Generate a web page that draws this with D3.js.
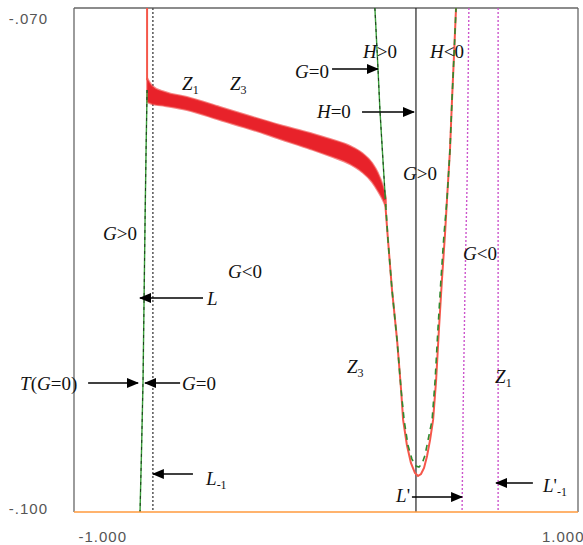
<!DOCTYPE html>
<html>
<head>
<meta charset="utf-8">
<script src="https://cdn.jsdelivr.net/npm/d3@7"></script>
<style>
  body { margin: 0; background: #fff; }
  .tick text { font-family: 'Liberation Sans', Arial, sans-serif; font-size: 15px; fill: #555; letter-spacing: 1px; }
  .note { font-family: 'Liberation Serif', 'Times New Roman', serif; font-size: 19px; fill: #111; }
</style>
</head>
<body>
<div id="chart"></div>
<script>
// axis ticks
const xTicks = [-1, 1];
const yTicks = [-0.1, -0.07];

// red scatter band (upper / lower edge)
const bandX   = [-0.710, -0.690, -0.639, -0.552, -0.421, -0.290, -0.183, -0.063, 0.016, 0.095, 0.143, 0.183, 0.206, 0.226, 0.238];
const bandTop = [-0.07417, -0.07464, -0.07500, -0.07530, -0.07589, -0.07649, -0.07696, -0.07744, -0.07780, -0.07821, -0.07863, -0.07923, -0.07982, -0.08060, -0.08131];
const bandBot = [-0.07560, -0.07571, -0.07583, -0.07607, -0.07667, -0.07726, -0.07780, -0.07839, -0.07881, -0.07929, -0.07976, -0.08036, -0.08089, -0.08143, -0.08185];

// red curve
const redLeft = [[-0.710, -0.0700], [-0.710, -0.0743]];
const redU = [[0.234, -0.08143], [0.246, -0.08381], [0.262, -0.08679], [0.282, -0.08976], [0.298, -0.09274],
  [0.306, -0.09452], [0.321, -0.09601], [0.337, -0.09708], [0.353, -0.09768], [0.365, -0.09786],
  [0.377, -0.09774], [0.389, -0.09738], [0.401, -0.09667], [0.413, -0.09571], [0.425, -0.09452],
  [0.437, -0.09214], [0.448, -0.08917], [0.460, -0.08619], [0.472, -0.08351], [0.480, -0.08143],
  [0.492, -0.07845], [0.500, -0.07548], [0.508, -0.07280], [0.516, -0.07000]];

// green curve G=0
const greenLeft = [[-0.710, -0.07488], [-0.714, -0.07845], [-0.718, -0.08262], [-0.722, -0.08738],
  [-0.726, -0.09214], [-0.732, -0.09631], [-0.738, -0.10000]];
const greenUpper = [[0.194, -0.07000], [0.206, -0.07351], [0.214, -0.07607], [0.226, -0.07905], [0.234, -0.08101]];
const greenU = [[0.234, -0.08101], [0.246, -0.08381], [0.262, -0.08679], [0.282, -0.08976], [0.298, -0.09274],
  [0.310, -0.09452], [0.325, -0.09601], [0.341, -0.09685], [0.357, -0.09726], [0.369, -0.09732],
  [0.381, -0.09714], [0.393, -0.09661], [0.405, -0.09571], [0.421, -0.09452], [0.433, -0.09214],
  [0.444, -0.08917], [0.456, -0.08619], [0.468, -0.08351], [0.480, -0.08143], [0.492, -0.07845],
  [0.500, -0.07548], [0.508, -0.07280], [0.516, -0.07000]];

// reference lines
const hZeroX = 0.357;
const lineL = -0.687;
const lineLp = [[0.567, -0.07], [0.560, -0.08024], [0.552, -0.08619], [0.544, -0.09411], [0.540, -0.1]];
const lineLp1 = 0.683;

// labels: [x, y, parts]  parts: [text, style] style i=italic, s=subscript
const notes = [
  [-0.571, -0.07488, [['Z', 'i'], ['1', 's']]],
  [-0.381, -0.07488, [['Z', 'i'], ['3', 's']]],
  [-0.123, -0.07417, [['G', 'i'], ['=0', '']]],
  [0.147, -0.07298, [['H', 'i'], ['>0', '']]],
  [0.413, -0.07298, [['H', 'i'], ['<0', '']]],
  [-0.036, -0.07655, [['H', 'i'], ['=0', '']]],
  [0.306, -0.08024, [['G', 'i'], ['>0', '']]],
  [-0.885, -0.08381, [['G', 'i'], ['>0', '']]],
  [-0.389, -0.08607, [['G', 'i'], ['<0', '']]],
  [-0.472, -0.08768, [['L', 'i']]],
  [-1.214, -0.09274, [['T', 'i'], ['(', ''], ['G', 'i'], ['=0)', '']]],
  [-0.571, -0.09274, [['G', 'i'], ['=0', '']]],
  [0.083, -0.09173, [['Z', 'i'], ['3', 's']]],
  [0.671, -0.09232, [['Z', 'i'], ['1', 's']]],
  [0.544, -0.08500, [['G', 'i'], ['<0', '']]],
  [-0.476, -0.09839, [['L', 'i'], ['-1', 's']]],
  [0.278, -0.09940, [['L', 'i'], ['\'', '']]],
  [0.861, -0.09881, [['L', 'i'], ['\'', ''], ['-1', 's']]]
];

// arrows: [x from, x to, y]
const arrows = [
  [0.024, 0.206, -0.07363],
  [0.143, 0.349, -0.07619],
  [-0.488, -0.738, -0.08726],
  [-0.944, -0.746, -0.09232],
  [-0.579, -0.718, -0.09232],
  [-0.528, -0.687, -0.09774],
  [0.341, 0.540, -0.09911],
  [0.821, 0.675, -0.09827]
];

const width = 583, height = 545;
const x = d3.scaleLinear().domain([-1, 1]).range([74, 578]);
const y = d3.scaleLinear().domain([-0.1, -0.07]).range([512, 8]);

const svg = d3.select('#chart').append('svg')
  .attr('width', width)
  .attr('height', height);

svg.append('defs').append('marker')
  .attr('id', 'head')
  .attr('markerUnits', 'userSpaceOnUse')
  .attr('markerWidth', 12).attr('markerHeight', 10)
  .attr('refX', 11).attr('refY', 5)
  .attr('orient', 'auto')
  .append('path')
  .attr('d', 'M0,0 L12,5 L0,10 Z')
  .attr('fill', '#000');

// frame
svg.append('line').attr('x1', x(-1)).attr('x2', x(-1)).attr('y1', y(-0.07)).attr('y2', y(-0.1))
  .attr('stroke', '#666').attr('stroke-width', 1.3);
svg.append('line').attr('x1', x(-1)).attr('x2', x(1)).attr('y1', y(-0.07)).attr('y2', y(-0.07))
  .attr('stroke', '#666').attr('stroke-width', 1.3);
svg.append('line').attr('x1', x(1)).attr('x2', x(1)).attr('y1', y(-0.07)).attr('y2', y(-0.1))
  .attr('stroke', '#666').attr('stroke-width', 1.3);

const line = d3.line().x(d => x(d[0])).y(d => y(d[1]));

// reference lines
svg.append('line')
  .attr('x1', x(lineL)).attr('x2', x(lineL)).attr('y1', y(-0.07)).attr('y2', y(-0.1))
  .attr('stroke', '#555').attr('stroke-width', 1.5).attr('stroke-dasharray', '2,2');
svg.append('path').attr('d', line(lineLp))
  .attr('fill', 'none').attr('stroke', '#cc55cc').attr('stroke-width', 1.4).attr('stroke-dasharray', '2,2');
svg.append('line')
  .attr('x1', x(lineLp1)).attr('x2', x(lineLp1)).attr('y1', y(-0.07)).attr('y2', y(-0.1))
  .attr('stroke', '#cc55cc').attr('stroke-width', 1.4).attr('stroke-dasharray', '2,2');
svg.append('line')
  .attr('x1', x(hZeroX)).attr('x2', x(hZeroX)).attr('y1', y(-0.07)).attr('y2', y(-0.1))
  .attr('stroke', '#222').attr('stroke-width', 1.2);

// red band
const band = bandX.map((v, i) => ({ x: v, hi: bandTop[i], lo: bandBot[i] }));
const area = d3.area()
  .x(d => x(d.x)).y0(d => y(d.lo)).y1(d => y(d.hi))
  .curve(d3.curveMonotoneX);
svg.append('path').attr('d', area(band))
  .attr('fill', '#e8222a').attr('stroke', '#ee3a3a').attr('stroke-width', 2)
  .attr('stroke-opacity', 0.6);

// red curve
[redLeft, redU].forEach(pts => {
  svg.append('path').attr('d', line(pts))
    .attr('fill', 'none').attr('stroke', '#f5574a').attr('stroke-width', 2);
});

// green curve
[greenLeft, greenUpper].forEach(pts => {
  svg.append('path').attr('d', line(pts))
    .attr('fill', 'none').attr('stroke', '#3a9e3a').attr('stroke-width', 1.4);
  svg.append('path').attr('d', line(pts))
    .attr('fill', 'none').attr('stroke', '#1d3d1d').attr('stroke-width', 1).attr('stroke-dasharray', '3,4');
});
svg.append('path').attr('d', line(greenU))
  .attr('fill', 'none').attr('stroke', '#2f8a2f').attr('stroke-width', 1.6).attr('stroke-dasharray', '6,5');

// bottom axis line
svg.append('line').attr('x1', x(-1)).attr('x2', x(1)).attr('y1', y(-0.1)).attr('y2', y(-0.1))
  .attr('stroke', '#ff9a3c').attr('stroke-width', 1.5);

// axes
const yAxis = svg.append('g')
  .attr('transform', `translate(${x(-1)},0)`)
  .call(d3.axisLeft(y).tickValues(yTicks).tickSize(0).tickPadding(26)
    .tickFormat(d => d3.format('.3f')(d).replace('\u2212', '-').replace('0.', '.')));
yAxis.select('.domain').remove();
yAxis.selectAll('.tick text').attr('dy', d => d === -0.07 ? '1.05em' : '0.12em');

const xAxis = svg.append('g')
  .attr('transform', `translate(0,${y(-0.1)})`)
  .call(d3.axisBottom(x).tickValues(xTicks).tickSize(0).tickPadding(19)
    .tickFormat(d => d3.format('.3f')(d).replace('\u2212', '-')));
xAxis.select('.domain').remove();
xAxis.selectAll('.tick text')
  .attr('text-anchor', d => d < 0 ? 'start' : 'end')
  .attr('x', d => d < 0 ? 4 : 6);

// arrows
svg.selectAll('.arrow')
  .data(arrows)
  .enter()
  .append('line')
  .attr('class', 'arrow')
  .attr('x1', d => x(d[0])).attr('x2', d => x(d[1]))
  .attr('y1', d => y(d[2])).attr('y2', d => y(d[2]))
  .attr('stroke', '#000').attr('stroke-width', 1.5)
  .attr('marker-end', 'url(#head)');

// labels
notes.forEach(n => {
  const t = svg.append('text').attr('class', 'note')
    .attr('x', x(n[0])).attr('y', y(n[1]));
  n[2].forEach(p => {
    const s = t.append('tspan').text(p[0]);
    if (p[1] === 'i') s.attr('font-style', 'italic');
    if (p[1] === 's') s.attr('font-size', '12px').attr('dy', 4);
  });
});
</script>
</body>
</html>
